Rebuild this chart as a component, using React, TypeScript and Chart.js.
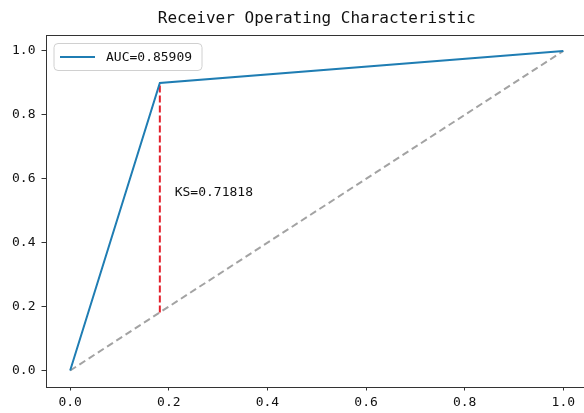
import React, { useEffect, useRef } from "react";
import { Chart, registerables } from "chart.js";

Chart.register(...registerables);

const titleText = "Receiver Operating Characteristic";
const fpr = [0, 0.18182, 1];
const tpr = [0, 0.9, 1];
const rocLabel = "AUC=0.85909";
const diagX = [0, 1];
const diagY = [0, 1];
const ksX = [0.18182, 0.18182];
const ksY = [0.18182, 0.9];
const ksLabel = "KS=0.71818";
const ksTextPos = [0.212, 0.545];
const tickValues = [0, 0.2, 0.4, 0.6, 0.8, 1.0];

const FONT = "'DejaVu Sans Mono', monospace";

export default function App() {
  const ref = useRef<HTMLCanvasElement | null>(null);

  useEffect(() => {
    document.body.style.margin = "0";
    const canvas = ref.current;
    if (!canvas) return;

    const overlay = {
      id: "overlay",
      afterDraw(chart: any) {
        const ctx = chart.ctx;
        const a = chart.chartArea;
        const xs = chart.scales.x;
        const ys = chart.scales.y;
        ctx.save();
        // frame
        ctx.strokeStyle = "#333";
        ctx.lineWidth = 1;
        ctx.strokeRect(Math.round(a.left) + 0.5, Math.round(a.top) + 0.5, Math.round(a.right - a.left), Math.round(a.bottom - a.top));
        // title
        ctx.fillStyle = "#111";
        ctx.font = `16px ${FONT}`;
        ctx.textAlign = "center";
        ctx.textBaseline = "middle";
        ctx.fillText(titleText, (a.left + a.right) / 2, 19);
        // KS text
        ctx.font = `13px ${FONT}`;
        ctx.textAlign = "left";
        ctx.textBaseline = "alphabetic";
        ctx.fillText(ksLabel, xs.getPixelForValue(ksTextPos[0]), ys.getPixelForValue(ksTextPos[1]));
        // legend
        const lx = a.left + 8.5, ly = a.top + 8.5, lw = 148, lh = 27, r = 4;
        ctx.beginPath();
        ctx.moveTo(lx + r, ly);
        ctx.lineTo(lx + lw - r, ly);
        ctx.quadraticCurveTo(lx + lw, ly, lx + lw, ly + r);
        ctx.lineTo(lx + lw, ly + lh - r);
        ctx.quadraticCurveTo(lx + lw, ly + lh, lx + lw - r, ly + lh);
        ctx.lineTo(lx + r, ly + lh);
        ctx.quadraticCurveTo(lx, ly + lh, lx, ly + lh - r);
        ctx.lineTo(lx, ly + r);
        ctx.quadraticCurveTo(lx, ly, lx + r, ly);
        ctx.closePath();
        ctx.fillStyle = "rgba(255,255,255,0.8)";
        ctx.fill();
        ctx.strokeStyle = "#d0d0d0";
        ctx.stroke();
        const ds = chart.data.datasets[0];
        ctx.strokeStyle = ds.borderColor;
        ctx.lineWidth = 2;
        ctx.beginPath();
        ctx.moveTo(lx + 6, ly + lh / 2);
        ctx.lineTo(lx + 41, ly + lh / 2);
        ctx.stroke();
        ctx.fillStyle = "#111";
        ctx.textBaseline = "middle";
        ctx.fillText(ds.label, lx + 52, ly + lh / 2 + 0.5);
        ctx.restore();
      },
    };

    const toPts = (xs: number[], ys: number[]) => xs.map((x, i) => ({ x, y: ys[i] }));

    const axisCommon = (isX: boolean) => ({
      type: "linear" as const,
      min: -0.05,
      max: 1.05,
      afterBuildTicks: (s: any) => {
        s.ticks = tickValues.map((v) => ({ value: v }));
      },
      afterFit: (s: any) => {
        if (isX) s.height = 26.5;
        else s.width = 45.5;
      },
      border: { display: false },
      grid: {
        display: true,
        drawOnChartArea: false,
        drawTicks: true,
        tickLength: 4,
        color: "#333",
        lineWidth: 1,
      },
      ticks: {
        color: "#111",
        font: { family: FONT, size: 13 },
        padding: isX ? 4 : 6,
        maxRotation: 0,
        autoSkip: false,
        callback: (v: any) => Number(v).toFixed(1),
      },
    });

    const chart = new Chart(canvas, {
      type: "scatter",
      data: {
        datasets: [
          {
            label: rocLabel,
            data: toPts(fpr, tpr),
            showLine: true,
            borderColor: "#1f7db3",
            borderWidth: 2,
            pointRadius: 0,
            fill: false,
          },
          {
            label: "diag",
            data: toPts(diagX, diagY),
            showLine: true,
            borderColor: "#a3a3a3",
            borderWidth: 2,
            borderDash: [7, 4],
            pointRadius: 0,
            fill: false,
          },
          {
            label: "ks",
            data: toPts(ksX, ksY),
            showLine: true,
            borderColor: "#e3202b",
            borderWidth: 2,
            borderDash: [7, 3],
            pointRadius: 0,
            fill: false,
          },
        ],
      },
      options: {
        responsive: false,
        animation: false,
        layout: { padding: { top: 35, right: 12, left: 0, bottom: 0 } },
        plugins: {
          legend: { display: false },
          title: { display: false },
          tooltip: { enabled: false },
        },
        scales: {
          x: axisCommon(true),
          y: axisCommon(false),
        },
      },
      plugins: [overlay],
    });
    return () => chart.destroy();
  }, []);

  return (
    <div style={{ position: "fixed", left: 0, top: 0, width: 584, height: 413, overflow: "hidden", background: "#fff" }}>
      <canvas ref={ref} width={600} height={413} style={{ display: "block" }} />
    </div>
  );
}
